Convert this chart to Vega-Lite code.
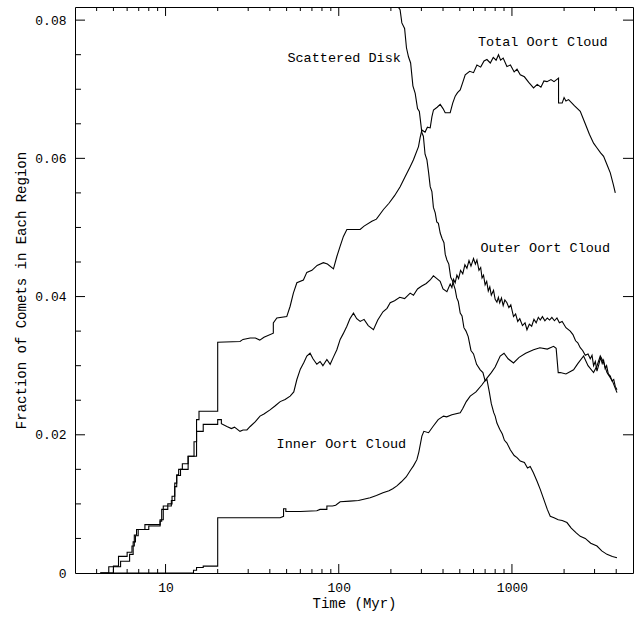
{
  "$schema": "https://vega.github.io/schema/vega-lite/v6.json",
  "width": 558,
  "height": 566,
  "autosize": {"type": "none"},
  "padding": {"left": 75, "top": 7, "right": 1, "bottom": 44},
  "background": "white",
  "config": {
    "view": {"stroke": "black", "strokeWidth": 1},
    "font": "Liberation Mono",
    "axis": {
      "grid": false,
      "domain": false,
      "ticks": false,
      "labelColor": "black",
      "titleColor": "black",
      "labelFont": "Liberation Mono",
      "titleFont": "Liberation Mono",
      "labelFontSize": 13,
      "titleFontSize": 14,
      "titleFontWeight": "normal",
      "labelOverlap": false,
      "labelFlush": false
    }
  },
  "datasets": {
    "curves": [
      {"r": "Scattered Disk", "t": 3, "v": 1.0},
      {"r": "Scattered Disk", "t": 132.9, "v": 0.106},
      {"r": "Scattered Disk", "t": 181.2, "v": 0.0894},
      {"r": "Scattered Disk", "t": 220.3, "v": 0.0819},
      {"r": "Scattered Disk", "t": 226, "v": 0.0815},
      {"r": "Scattered Disk", "t": 231.4, "v": 0.0796},
      {"r": "Scattered Disk", "t": 240, "v": 0.0788},
      {"r": "Scattered Disk", "t": 246, "v": 0.076},
      {"r": "Scattered Disk", "t": 252.7, "v": 0.0747},
      {"r": "Scattered Disk", "t": 260, "v": 0.0738},
      {"r": "Scattered Disk", "t": 268, "v": 0.0705},
      {"r": "Scattered Disk", "t": 276.3, "v": 0.0694},
      {"r": "Scattered Disk", "t": 285, "v": 0.0672},
      {"r": "Scattered Disk", "t": 292, "v": 0.0668},
      {"r": "Scattered Disk", "t": 302, "v": 0.0637},
      {"r": "Scattered Disk", "t": 308, "v": 0.0632},
      {"r": "Scattered Disk", "t": 315, "v": 0.0606},
      {"r": "Scattered Disk", "t": 322.8, "v": 0.0598},
      {"r": "Scattered Disk", "t": 330, "v": 0.058},
      {"r": "Scattered Disk", "t": 337.3, "v": 0.0559},
      {"r": "Scattered Disk", "t": 345, "v": 0.0552},
      {"r": "Scattered Disk", "t": 352, "v": 0.0529},
      {"r": "Scattered Disk", "t": 360.6, "v": 0.0521},
      {"r": "Scattered Disk", "t": 368, "v": 0.0508},
      {"r": "Scattered Disk", "t": 376, "v": 0.0506},
      {"r": "Scattered Disk", "t": 385.3, "v": 0.0492},
      {"r": "Scattered Disk", "t": 395, "v": 0.0484},
      {"r": "Scattered Disk", "t": 405, "v": 0.0478},
      {"r": "Scattered Disk", "t": 412, "v": 0.0461},
      {"r": "Scattered Disk", "t": 421.2, "v": 0.0453},
      {"r": "Scattered Disk", "t": 432, "v": 0.0447},
      {"r": "Scattered Disk", "t": 443, "v": 0.0428},
      {"r": "Scattered Disk", "t": 455, "v": 0.0422},
      {"r": "Scattered Disk", "t": 470.4, "v": 0.041},
      {"r": "Scattered Disk", "t": 480, "v": 0.0398},
      {"r": "Scattered Disk", "t": 490, "v": 0.0393},
      {"r": "Scattered Disk", "t": 502.7, "v": 0.0376},
      {"r": "Scattered Disk", "t": 515, "v": 0.0372},
      {"r": "Scattered Disk", "t": 528, "v": 0.0355},
      {"r": "Scattered Disk", "t": 543, "v": 0.035},
      {"r": "Scattered Disk", "t": 559.1, "v": 0.0342},
      {"r": "Scattered Disk", "t": 580, "v": 0.0322},
      {"r": "Scattered Disk", "t": 600, "v": 0.0317},
      {"r": "Scattered Disk", "t": 625, "v": 0.0302},
      {"r": "Scattered Disk", "t": 655.9, "v": 0.0294},
      {"r": "Scattered Disk", "t": 680, "v": 0.029},
      {"r": "Scattered Disk", "t": 700, "v": 0.0278},
      {"r": "Scattered Disk", "t": 717.1, "v": 0.028},
      {"r": "Scattered Disk", "t": 740, "v": 0.0262},
      {"r": "Scattered Disk", "t": 760, "v": 0.0245},
      {"r": "Scattered Disk", "t": 785, "v": 0.0232},
      {"r": "Scattered Disk", "t": 800, "v": 0.0227},
      {"r": "Scattered Disk", "t": 819, "v": 0.0217},
      {"r": "Scattered Disk", "t": 850, "v": 0.0208},
      {"r": "Scattered Disk", "t": 880, "v": 0.0201},
      {"r": "Scattered Disk", "t": 905, "v": 0.0192},
      {"r": "Scattered Disk", "t": 935.4, "v": 0.0188},
      {"r": "Scattered Disk", "t": 980, "v": 0.0178},
      {"r": "Scattered Disk", "t": 1030, "v": 0.017},
      {"r": "Scattered Disk", "t": 1070, "v": 0.0167},
      {"r": "Scattered Disk", "t": 1117, "v": 0.0162},
      {"r": "Scattered Disk", "t": 1180, "v": 0.016},
      {"r": "Scattered Disk", "t": 1230, "v": 0.0152},
      {"r": "Scattered Disk", "t": 1275, "v": 0.0154},
      {"r": "Scattered Disk", "t": 1330, "v": 0.0145},
      {"r": "Scattered Disk", "t": 1400, "v": 0.0132},
      {"r": "Scattered Disk", "t": 1457, "v": 0.0121},
      {"r": "Scattered Disk", "t": 1520, "v": 0.0108},
      {"r": "Scattered Disk", "t": 1600, "v": 0.0092},
      {"r": "Scattered Disk", "t": 1664, "v": 0.0082},
      {"r": "Scattered Disk", "t": 1750, "v": 0.008},
      {"r": "Scattered Disk", "t": 1850, "v": 0.0077},
      {"r": "Scattered Disk", "t": 1950, "v": 0.0076},
      {"r": "Scattered Disk", "t": 2078, "v": 0.0073},
      {"r": "Scattered Disk", "t": 2200, "v": 0.0065},
      {"r": "Scattered Disk", "t": 2350, "v": 0.0058},
      {"r": "Scattered Disk", "t": 2480, "v": 0.0053},
      {"r": "Scattered Disk", "t": 2650, "v": 0.005},
      {"r": "Scattered Disk", "t": 2850, "v": 0.0043},
      {"r": "Scattered Disk", "t": 3097, "v": 0.0039},
      {"r": "Scattered Disk", "t": 3300, "v": 0.0032},
      {"r": "Scattered Disk", "t": 3538, "v": 0.0027},
      {"r": "Scattered Disk", "t": 3800, "v": 0.0024},
      {"r": "Scattered Disk", "t": 4041, "v": 0.0022},

      {"r": "Total Oort Cloud", "t": 4.2, "v": 0},
      {"r": "Total Oort Cloud", "t": 4.7, "v": 0},
      {"r": "Total Oort Cloud", "t": 4.7, "v": 0.0009},
      {"r": "Total Oort Cloud", "t": 5.5, "v": 0.0009},
      {"r": "Total Oort Cloud", "t": 5.5, "v": 0.0017},
      {"r": "Total Oort Cloud", "t": 6.2, "v": 0.0017},
      {"r": "Total Oort Cloud", "t": 6.2, "v": 0.0027},
      {"r": "Total Oort Cloud", "t": 6.5, "v": 0.0027},
      {"r": "Total Oort Cloud", "t": 6.5, "v": 0.0045},
      {"r": "Total Oort Cloud", "t": 6.7, "v": 0.0045},
      {"r": "Total Oort Cloud", "t": 6.7, "v": 0.0054},
      {"r": "Total Oort Cloud", "t": 6.95, "v": 0.0054},
      {"r": "Total Oort Cloud", "t": 6.95, "v": 0.0063},
      {"r": "Total Oort Cloud", "t": 8.0, "v": 0.0063},
      {"r": "Total Oort Cloud", "t": 8.0, "v": 0.0068},
      {"r": "Total Oort Cloud", "t": 9.3, "v": 0.0068},
      {"r": "Total Oort Cloud", "t": 9.3, "v": 0.0075},
      {"r": "Total Oort Cloud", "t": 9.5, "v": 0.0075},
      {"r": "Total Oort Cloud", "t": 9.5, "v": 0.0092},
      {"r": "Total Oort Cloud", "t": 10.3, "v": 0.0092},
      {"r": "Total Oort Cloud", "t": 10.3, "v": 0.01},
      {"r": "Total Oort Cloud", "t": 10.9, "v": 0.01},
      {"r": "Total Oort Cloud", "t": 10.9, "v": 0.0111},
      {"r": "Total Oort Cloud", "t": 11.3, "v": 0.0111},
      {"r": "Total Oort Cloud", "t": 11.3, "v": 0.013},
      {"r": "Total Oort Cloud", "t": 11.6, "v": 0.013},
      {"r": "Total Oort Cloud", "t": 11.6, "v": 0.0142},
      {"r": "Total Oort Cloud", "t": 11.9, "v": 0.0142},
      {"r": "Total Oort Cloud", "t": 11.9, "v": 0.015},
      {"r": "Total Oort Cloud", "t": 12.5, "v": 0.015},
      {"r": "Total Oort Cloud", "t": 12.5, "v": 0.0158},
      {"r": "Total Oort Cloud", "t": 13.5, "v": 0.0158},
      {"r": "Total Oort Cloud", "t": 13.5, "v": 0.0169},
      {"r": "Total Oort Cloud", "t": 14.6, "v": 0.0169},
      {"r": "Total Oort Cloud", "t": 14.6, "v": 0.019},
      {"r": "Total Oort Cloud", "t": 15.1, "v": 0.019},
      {"r": "Total Oort Cloud", "t": 15.1, "v": 0.0222},
      {"r": "Total Oort Cloud", "t": 15.6, "v": 0.0222},
      {"r": "Total Oort Cloud", "t": 15.6, "v": 0.0234},
      {"r": "Total Oort Cloud", "t": 20, "v": 0.0234},
      {"r": "Total Oort Cloud", "t": 20, "v": 0.0334},
      {"r": "Total Oort Cloud", "t": 26.9, "v": 0.0335},
      {"r": "Total Oort Cloud", "t": 28, "v": 0.0338},
      {"r": "Total Oort Cloud", "t": 30.8, "v": 0.034},
      {"r": "Total Oort Cloud", "t": 33, "v": 0.034},
      {"r": "Total Oort Cloud", "t": 35, "v": 0.0337},
      {"r": "Total Oort Cloud", "t": 37, "v": 0.0341},
      {"r": "Total Oort Cloud", "t": 41.9, "v": 0.0347},
      {"r": "Total Oort Cloud", "t": 41.9, "v": 0.0362},
      {"r": "Total Oort Cloud", "t": 43.9, "v": 0.0369},
      {"r": "Total Oort Cloud", "t": 50.1, "v": 0.0371},
      {"r": "Total Oort Cloud", "t": 52.4, "v": 0.0386},
      {"r": "Total Oort Cloud", "t": 54.7, "v": 0.0405},
      {"r": "Total Oort Cloud", "t": 57.3, "v": 0.042},
      {"r": "Total Oort Cloud", "t": 62.5, "v": 0.0424},
      {"r": "Total Oort Cloud", "t": 65.4, "v": 0.0435},
      {"r": "Total Oort Cloud", "t": 70, "v": 0.0438},
      {"r": "Total Oort Cloud", "t": 75, "v": 0.0445},
      {"r": "Total Oort Cloud", "t": 81.5, "v": 0.0449},
      {"r": "Total Oort Cloud", "t": 86, "v": 0.0447},
      {"r": "Total Oort Cloud", "t": 93.2, "v": 0.044},
      {"r": "Total Oort Cloud", "t": 97.5, "v": 0.0458},
      {"r": "Total Oort Cloud", "t": 101.9, "v": 0.0473},
      {"r": "Total Oort Cloud", "t": 106.4, "v": 0.0487},
      {"r": "Total Oort Cloud", "t": 111.4, "v": 0.0497},
      {"r": "Total Oort Cloud", "t": 120, "v": 0.0497},
      {"r": "Total Oort Cloud", "t": 132.9, "v": 0.0497},
      {"r": "Total Oort Cloud", "t": 140, "v": 0.0502},
      {"r": "Total Oort Cloud", "t": 155.3, "v": 0.0509},
      {"r": "Total Oort Cloud", "t": 165, "v": 0.0512},
      {"r": "Total Oort Cloud", "t": 181.2, "v": 0.0526},
      {"r": "Total Oort Cloud", "t": 195, "v": 0.0535},
      {"r": "Total Oort Cloud", "t": 210, "v": 0.0546},
      {"r": "Total Oort Cloud", "t": 226.2, "v": 0.0559},
      {"r": "Total Oort Cloud", "t": 240, "v": 0.0572},
      {"r": "Total Oort Cloud", "t": 258.4, "v": 0.0588},
      {"r": "Total Oort Cloud", "t": 270, "v": 0.0598},
      {"r": "Total Oort Cloud", "t": 288.7, "v": 0.0617},
      {"r": "Total Oort Cloud", "t": 295, "v": 0.063},
      {"r": "Total Oort Cloud", "t": 302, "v": 0.0641},
      {"r": "Total Oort Cloud", "t": 315, "v": 0.0638},
      {"r": "Total Oort Cloud", "t": 325, "v": 0.0645},
      {"r": "Total Oort Cloud", "t": 337.3, "v": 0.0644},
      {"r": "Total Oort Cloud", "t": 345, "v": 0.066},
      {"r": "Total Oort Cloud", "t": 352.4, "v": 0.067},
      {"r": "Total Oort Cloud", "t": 370, "v": 0.0674},
      {"r": "Total Oort Cloud", "t": 385.3, "v": 0.0678},
      {"r": "Total Oort Cloud", "t": 400, "v": 0.0672},
      {"r": "Total Oort Cloud", "t": 411.8, "v": 0.0666},
      {"r": "Total Oort Cloud", "t": 440, "v": 0.0666},
      {"r": "Total Oort Cloud", "t": 455, "v": 0.068},
      {"r": "Total Oort Cloud", "t": 470.4, "v": 0.069},
      {"r": "Total Oort Cloud", "t": 485, "v": 0.0695},
      {"r": "Total Oort Cloud", "t": 502.7, "v": 0.0699},
      {"r": "Total Oort Cloud", "t": 520, "v": 0.071},
      {"r": "Total Oort Cloud", "t": 537.3, "v": 0.0721},
      {"r": "Total Oort Cloud", "t": 570, "v": 0.0726},
      {"r": "Total Oort Cloud", "t": 600, "v": 0.0724},
      {"r": "Total Oort Cloud", "t": 627.7, "v": 0.0735},
      {"r": "Total Oort Cloud", "t": 660, "v": 0.0732},
      {"r": "Total Oort Cloud", "t": 690, "v": 0.0741},
      {"r": "Total Oort Cloud", "t": 717.1, "v": 0.0743},
      {"r": "Total Oort Cloud", "t": 750, "v": 0.0738},
      {"r": "Total Oort Cloud", "t": 780, "v": 0.0746},
      {"r": "Total Oort Cloud", "t": 810, "v": 0.0742},
      {"r": "Total Oort Cloud", "t": 836.5, "v": 0.075},
      {"r": "Total Oort Cloud", "t": 860, "v": 0.0742},
      {"r": "Total Oort Cloud", "t": 890, "v": 0.0745},
      {"r": "Total Oort Cloud", "t": 935.4, "v": 0.0733},
      {"r": "Total Oort Cloud", "t": 980, "v": 0.0735},
      {"r": "Total Oort Cloud", "t": 1030, "v": 0.0725},
      {"r": "Total Oort Cloud", "t": 1070, "v": 0.0729},
      {"r": "Total Oort Cloud", "t": 1117, "v": 0.0721},
      {"r": "Total Oort Cloud", "t": 1180, "v": 0.0718},
      {"r": "Total Oort Cloud", "t": 1250, "v": 0.071},
      {"r": "Total Oort Cloud", "t": 1333, "v": 0.0702},
      {"r": "Total Oort Cloud", "t": 1400, "v": 0.0707},
      {"r": "Total Oort Cloud", "t": 1470, "v": 0.0703},
      {"r": "Total Oort Cloud", "t": 1530, "v": 0.0712},
      {"r": "Total Oort Cloud", "t": 1593, "v": 0.0711},
      {"r": "Total Oort Cloud", "t": 1680, "v": 0.0714},
      {"r": "Total Oort Cloud", "t": 1750, "v": 0.0711},
      {"r": "Total Oort Cloud", "t": 1858, "v": 0.0716},
      {"r": "Total Oort Cloud", "t": 1858, "v": 0.068},
      {"r": "Total Oort Cloud", "t": 1950, "v": 0.068},
      {"r": "Total Oort Cloud", "t": 2000, "v": 0.0688},
      {"r": "Total Oort Cloud", "t": 2050, "v": 0.0683},
      {"r": "Total Oort Cloud", "t": 2123, "v": 0.0685},
      {"r": "Total Oort Cloud", "t": 2300, "v": 0.0676},
      {"r": "Total Oort Cloud", "t": 2480, "v": 0.0668},
      {"r": "Total Oort Cloud", "t": 2650, "v": 0.065},
      {"r": "Total Oort Cloud", "t": 2800, "v": 0.0635},
      {"r": "Total Oort Cloud", "t": 2960, "v": 0.0622},
      {"r": "Total Oort Cloud", "t": 3100, "v": 0.0615},
      {"r": "Total Oort Cloud", "t": 3250, "v": 0.0608},
      {"r": "Total Oort Cloud", "t": 3382, "v": 0.0603},
      {"r": "Total Oort Cloud", "t": 3550, "v": 0.059},
      {"r": "Total Oort Cloud", "t": 3697, "v": 0.0579},
      {"r": "Total Oort Cloud", "t": 3850, "v": 0.0562},
      {"r": "Total Oort Cloud", "t": 3951, "v": 0.055},

      {"r": "Outer Oort Cloud", "t": 4.2, "v": 0},
      {"r": "Outer Oort Cloud", "t": 5.0, "v": 0},
      {"r": "Outer Oort Cloud", "t": 5.0, "v": 0.001},
      {"r": "Outer Oort Cloud", "t": 5.35, "v": 0.001},
      {"r": "Outer Oort Cloud", "t": 5.35, "v": 0.0024},
      {"r": "Outer Oort Cloud", "t": 6.0, "v": 0.0024},
      {"r": "Outer Oort Cloud", "t": 6.0, "v": 0.003},
      {"r": "Outer Oort Cloud", "t": 6.4, "v": 0.003},
      {"r": "Outer Oort Cloud", "t": 6.4, "v": 0.0039},
      {"r": "Outer Oort Cloud", "t": 6.6, "v": 0.0039},
      {"r": "Outer Oort Cloud", "t": 6.6, "v": 0.0055},
      {"r": "Outer Oort Cloud", "t": 6.8, "v": 0.0055},
      {"r": "Outer Oort Cloud", "t": 6.8, "v": 0.0063},
      {"r": "Outer Oort Cloud", "t": 7.6, "v": 0.0063},
      {"r": "Outer Oort Cloud", "t": 7.6, "v": 0.007},
      {"r": "Outer Oort Cloud", "t": 9.3, "v": 0.007},
      {"r": "Outer Oort Cloud", "t": 9.3, "v": 0.0077},
      {"r": "Outer Oort Cloud", "t": 9.7, "v": 0.0077},
      {"r": "Outer Oort Cloud", "t": 9.7, "v": 0.0097},
      {"r": "Outer Oort Cloud", "t": 10.8, "v": 0.0097},
      {"r": "Outer Oort Cloud", "t": 10.8, "v": 0.0105},
      {"r": "Outer Oort Cloud", "t": 11.3, "v": 0.0105},
      {"r": "Outer Oort Cloud", "t": 11.3, "v": 0.0125},
      {"r": "Outer Oort Cloud", "t": 11.6, "v": 0.0125},
      {"r": "Outer Oort Cloud", "t": 11.6, "v": 0.0141},
      {"r": "Outer Oort Cloud", "t": 12.2, "v": 0.0141},
      {"r": "Outer Oort Cloud", "t": 12.2, "v": 0.015},
      {"r": "Outer Oort Cloud", "t": 13.5, "v": 0.015},
      {"r": "Outer Oort Cloud", "t": 13.5, "v": 0.0169},
      {"r": "Outer Oort Cloud", "t": 15.1, "v": 0.0169},
      {"r": "Outer Oort Cloud", "t": 15.1, "v": 0.0205},
      {"r": "Outer Oort Cloud", "t": 16.5, "v": 0.0205},
      {"r": "Outer Oort Cloud", "t": 16.5, "v": 0.0215},
      {"r": "Outer Oort Cloud", "t": 20, "v": 0.0215},
      {"r": "Outer Oort Cloud", "t": 20, "v": 0.0222},
      {"r": "Outer Oort Cloud", "t": 21, "v": 0.0222},
      {"r": "Outer Oort Cloud", "t": 21, "v": 0.0216},
      {"r": "Outer Oort Cloud", "t": 22.6, "v": 0.0212},
      {"r": "Outer Oort Cloud", "t": 24, "v": 0.0209},
      {"r": "Outer Oort Cloud", "t": 25, "v": 0.0211},
      {"r": "Outer Oort Cloud", "t": 26.9, "v": 0.0205},
      {"r": "Outer Oort Cloud", "t": 28, "v": 0.0207},
      {"r": "Outer Oort Cloud", "t": 29.5, "v": 0.0207},
      {"r": "Outer Oort Cloud", "t": 30.8, "v": 0.0212},
      {"r": "Outer Oort Cloud", "t": 33, "v": 0.0219},
      {"r": "Outer Oort Cloud", "t": 35.1, "v": 0.0227},
      {"r": "Outer Oort Cloud", "t": 37, "v": 0.023},
      {"r": "Outer Oort Cloud", "t": 40.1, "v": 0.0236},
      {"r": "Outer Oort Cloud", "t": 43, "v": 0.0242},
      {"r": "Outer Oort Cloud", "t": 45.9, "v": 0.0248},
      {"r": "Outer Oort Cloud", "t": 49, "v": 0.0251},
      {"r": "Outer Oort Cloud", "t": 52.4, "v": 0.0256},
      {"r": "Outer Oort Cloud", "t": 55, "v": 0.0262},
      {"r": "Outer Oort Cloud", "t": 57.3, "v": 0.028},
      {"r": "Outer Oort Cloud", "t": 60, "v": 0.0295},
      {"r": "Outer Oort Cloud", "t": 63, "v": 0.0305},
      {"r": "Outer Oort Cloud", "t": 65.4, "v": 0.0314},
      {"r": "Outer Oort Cloud", "t": 68.3, "v": 0.0318},
      {"r": "Outer Oort Cloud", "t": 71, "v": 0.031},
      {"r": "Outer Oort Cloud", "t": 74.7, "v": 0.0302},
      {"r": "Outer Oort Cloud", "t": 78, "v": 0.0306},
      {"r": "Outer Oort Cloud", "t": 81, "v": 0.03},
      {"r": "Outer Oort Cloud", "t": 85.4, "v": 0.0309},
      {"r": "Outer Oort Cloud", "t": 89.2, "v": 0.0302},
      {"r": "Outer Oort Cloud", "t": 93, "v": 0.0312},
      {"r": "Outer Oort Cloud", "t": 97.5, "v": 0.0323},
      {"r": "Outer Oort Cloud", "t": 101.9, "v": 0.0338},
      {"r": "Outer Oort Cloud", "t": 106, "v": 0.0346},
      {"r": "Outer Oort Cloud", "t": 111.4, "v": 0.0357},
      {"r": "Outer Oort Cloud", "t": 116, "v": 0.0368},
      {"r": "Outer Oort Cloud", "t": 121.6, "v": 0.0376},
      {"r": "Outer Oort Cloud", "t": 127, "v": 0.0368},
      {"r": "Outer Oort Cloud", "t": 133, "v": 0.0364},
      {"r": "Outer Oort Cloud", "t": 140, "v": 0.0367},
      {"r": "Outer Oort Cloud", "t": 148, "v": 0.0358},
      {"r": "Outer Oort Cloud", "t": 158.6, "v": 0.0352},
      {"r": "Outer Oort Cloud", "t": 168, "v": 0.0366},
      {"r": "Outer Oort Cloud", "t": 180, "v": 0.0378},
      {"r": "Outer Oort Cloud", "t": 190, "v": 0.0383},
      {"r": "Outer Oort Cloud", "t": 198.2, "v": 0.0391},
      {"r": "Outer Oort Cloud", "t": 210, "v": 0.0394},
      {"r": "Outer Oort Cloud", "t": 225, "v": 0.0399},
      {"r": "Outer Oort Cloud", "t": 240, "v": 0.0397},
      {"r": "Outer Oort Cloud", "t": 258.4, "v": 0.0405},
      {"r": "Outer Oort Cloud", "t": 270, "v": 0.0402},
      {"r": "Outer Oort Cloud", "t": 285, "v": 0.0411},
      {"r": "Outer Oort Cloud", "t": 300, "v": 0.0415},
      {"r": "Outer Oort Cloud", "t": 320, "v": 0.0419},
      {"r": "Outer Oort Cloud", "t": 337.3, "v": 0.0424},
      {"r": "Outer Oort Cloud", "t": 352, "v": 0.043},
      {"r": "Outer Oort Cloud", "t": 368.7, "v": 0.0426},
      {"r": "Outer Oort Cloud", "t": 385, "v": 0.0422},
      {"r": "Outer Oort Cloud", "t": 400, "v": 0.0411},
      {"r": "Outer Oort Cloud", "t": 421.2, "v": 0.0407},
      {"r": "Outer Oort Cloud", "t": 440, "v": 0.0418},
      {"r": "Outer Oort Cloud", "t": 450, "v": 0.0413},
      {"r": "Outer Oort Cloud", "t": 460, "v": 0.0425},
      {"r": "Outer Oort Cloud", "t": 470, "v": 0.042},
      {"r": "Outer Oort Cloud", "t": 481.1, "v": 0.0431},
      {"r": "Outer Oort Cloud", "t": 492, "v": 0.0426},
      {"r": "Outer Oort Cloud", "t": 505, "v": 0.0438},
      {"r": "Outer Oort Cloud", "t": 520, "v": 0.0433},
      {"r": "Outer Oort Cloud", "t": 535, "v": 0.0446},
      {"r": "Outer Oort Cloud", "t": 549.5, "v": 0.0441},
      {"r": "Outer Oort Cloud", "t": 565, "v": 0.0452},
      {"r": "Outer Oort Cloud", "t": 580, "v": 0.0444},
      {"r": "Outer Oort Cloud", "t": 600, "v": 0.0455},
      {"r": "Outer Oort Cloud", "t": 615, "v": 0.0447},
      {"r": "Outer Oort Cloud", "t": 627.7, "v": 0.0453},
      {"r": "Outer Oort Cloud", "t": 645, "v": 0.0438},
      {"r": "Outer Oort Cloud", "t": 660, "v": 0.0442},
      {"r": "Outer Oort Cloud", "t": 672, "v": 0.0427},
      {"r": "Outer Oort Cloud", "t": 685.4, "v": 0.0431},
      {"r": "Outer Oort Cloud", "t": 700, "v": 0.0417},
      {"r": "Outer Oort Cloud", "t": 715, "v": 0.0422},
      {"r": "Outer Oort Cloud", "t": 730, "v": 0.0408},
      {"r": "Outer Oort Cloud", "t": 745, "v": 0.0414},
      {"r": "Outer Oort Cloud", "t": 760, "v": 0.0402},
      {"r": "Outer Oort Cloud", "t": 782.8, "v": 0.0409},
      {"r": "Outer Oort Cloud", "t": 800, "v": 0.0396},
      {"r": "Outer Oort Cloud", "t": 819, "v": 0.0392},
      {"r": "Outer Oort Cloud", "t": 835, "v": 0.0399},
      {"r": "Outer Oort Cloud", "t": 850, "v": 0.0391},
      {"r": "Outer Oort Cloud", "t": 870, "v": 0.0398},
      {"r": "Outer Oort Cloud", "t": 890, "v": 0.0387},
      {"r": "Outer Oort Cloud", "t": 910, "v": 0.0395},
      {"r": "Outer Oort Cloud", "t": 935.4, "v": 0.0391},
      {"r": "Outer Oort Cloud", "t": 960, "v": 0.0384},
      {"r": "Outer Oort Cloud", "t": 985, "v": 0.0388},
      {"r": "Outer Oort Cloud", "t": 1021, "v": 0.0371},
      {"r": "Outer Oort Cloud", "t": 1050, "v": 0.0375},
      {"r": "Outer Oort Cloud", "t": 1080, "v": 0.0364},
      {"r": "Outer Oort Cloud", "t": 1110, "v": 0.0368},
      {"r": "Outer Oort Cloud", "t": 1150, "v": 0.0358},
      {"r": "Outer Oort Cloud", "t": 1190, "v": 0.0362},
      {"r": "Outer Oort Cloud", "t": 1221, "v": 0.0352},
      {"r": "Outer Oort Cloud", "t": 1260, "v": 0.036},
      {"r": "Outer Oort Cloud", "t": 1300, "v": 0.0357},
      {"r": "Outer Oort Cloud", "t": 1340, "v": 0.0367},
      {"r": "Outer Oort Cloud", "t": 1380, "v": 0.0362},
      {"r": "Outer Oort Cloud", "t": 1420, "v": 0.037},
      {"r": "Outer Oort Cloud", "t": 1457, "v": 0.0366},
      {"r": "Outer Oort Cloud", "t": 1500, "v": 0.0371},
      {"r": "Outer Oort Cloud", "t": 1550, "v": 0.0365},
      {"r": "Outer Oort Cloud", "t": 1600, "v": 0.0369},
      {"r": "Outer Oort Cloud", "t": 1650, "v": 0.0366},
      {"r": "Outer Oort Cloud", "t": 1700, "v": 0.037},
      {"r": "Outer Oort Cloud", "t": 1760, "v": 0.0365},
      {"r": "Outer Oort Cloud", "t": 1819, "v": 0.0369},
      {"r": "Outer Oort Cloud", "t": 1880, "v": 0.0362},
      {"r": "Outer Oort Cloud", "t": 1950, "v": 0.0364},
      {"r": "Outer Oort Cloud", "t": 2050, "v": 0.0355},
      {"r": "Outer Oort Cloud", "t": 2171, "v": 0.035},
      {"r": "Outer Oort Cloud", "t": 2250, "v": 0.0345},
      {"r": "Outer Oort Cloud", "t": 2330, "v": 0.0336},
      {"r": "Outer Oort Cloud", "t": 2400, "v": 0.0333},
      {"r": "Outer Oort Cloud", "t": 2480, "v": 0.0326},
      {"r": "Outer Oort Cloud", "t": 2560, "v": 0.0322},
      {"r": "Outer Oort Cloud", "t": 2650, "v": 0.0315},
      {"r": "Outer Oort Cloud", "t": 2750, "v": 0.0317},
      {"r": "Outer Oort Cloud", "t": 2833, "v": 0.031},
      {"r": "Outer Oort Cloud", "t": 2900, "v": 0.0315},
      {"r": "Outer Oort Cloud", "t": 2960, "v": 0.03},
      {"r": "Outer Oort Cloud", "t": 3030, "v": 0.0306},
      {"r": "Outer Oort Cloud", "t": 3097, "v": 0.0292},
      {"r": "Outer Oort Cloud", "t": 3170, "v": 0.0301},
      {"r": "Outer Oort Cloud", "t": 3250, "v": 0.0312},
      {"r": "Outer Oort Cloud", "t": 3320, "v": 0.0303},
      {"r": "Outer Oort Cloud", "t": 3382, "v": 0.0308},
      {"r": "Outer Oort Cloud", "t": 3450, "v": 0.0296},
      {"r": "Outer Oort Cloud", "t": 3520, "v": 0.03},
      {"r": "Outer Oort Cloud", "t": 3600, "v": 0.0288},
      {"r": "Outer Oort Cloud", "t": 3697, "v": 0.0285},
      {"r": "Outer Oort Cloud", "t": 3780, "v": 0.0278},
      {"r": "Outer Oort Cloud", "t": 3870, "v": 0.028},
      {"r": "Outer Oort Cloud", "t": 3950, "v": 0.027},
      {"r": "Outer Oort Cloud", "t": 4041, "v": 0.0265},

      {"r": "Inner Oort Cloud", "t": 4.2, "v": 0},
      {"r": "Inner Oort Cloud", "t": 14.5, "v": 0},
      {"r": "Inner Oort Cloud", "t": 14.5, "v": 0.0004},
      {"r": "Inner Oort Cloud", "t": 15.1, "v": 0.0004},
      {"r": "Inner Oort Cloud", "t": 15.1, "v": 0.0008},
      {"r": "Inner Oort Cloud", "t": 16.5, "v": 0.0008},
      {"r": "Inner Oort Cloud", "t": 16.5, "v": 0.001},
      {"r": "Inner Oort Cloud", "t": 20, "v": 0.001},
      {"r": "Inner Oort Cloud", "t": 20, "v": 0.008},
      {"r": "Inner Oort Cloud", "t": 45.9, "v": 0.008},
      {"r": "Inner Oort Cloud", "t": 48, "v": 0.0082},
      {"r": "Inner Oort Cloud", "t": 48, "v": 0.0093},
      {"r": "Inner Oort Cloud", "t": 49.5, "v": 0.0093},
      {"r": "Inner Oort Cloud", "t": 49.5, "v": 0.0089},
      {"r": "Inner Oort Cloud", "t": 60, "v": 0.0089},
      {"r": "Inner Oort Cloud", "t": 74.7, "v": 0.009},
      {"r": "Inner Oort Cloud", "t": 78, "v": 0.0092},
      {"r": "Inner Oort Cloud", "t": 85.4, "v": 0.0092},
      {"r": "Inner Oort Cloud", "t": 85.4, "v": 0.0097},
      {"r": "Inner Oort Cloud", "t": 92, "v": 0.0097},
      {"r": "Inner Oort Cloud", "t": 96, "v": 0.0098},
      {"r": "Inner Oort Cloud", "t": 101.9, "v": 0.0103},
      {"r": "Inner Oort Cloud", "t": 116, "v": 0.0104},
      {"r": "Inner Oort Cloud", "t": 130, "v": 0.0105},
      {"r": "Inner Oort Cloud", "t": 151.8, "v": 0.0109},
      {"r": "Inner Oort Cloud", "t": 165, "v": 0.0112},
      {"r": "Inner Oort Cloud", "t": 180, "v": 0.0116},
      {"r": "Inner Oort Cloud", "t": 195, "v": 0.0119},
      {"r": "Inner Oort Cloud", "t": 205, "v": 0.0122},
      {"r": "Inner Oort Cloud", "t": 216.6, "v": 0.0126},
      {"r": "Inner Oort Cloud", "t": 230, "v": 0.0132},
      {"r": "Inner Oort Cloud", "t": 245, "v": 0.0139},
      {"r": "Inner Oort Cloud", "t": 260, "v": 0.0149},
      {"r": "Inner Oort Cloud", "t": 270, "v": 0.0155},
      {"r": "Inner Oort Cloud", "t": 282.6, "v": 0.0164},
      {"r": "Inner Oort Cloud", "t": 290, "v": 0.0175},
      {"r": "Inner Oort Cloud", "t": 302, "v": 0.0198},
      {"r": "Inner Oort Cloud", "t": 310, "v": 0.0205},
      {"r": "Inner Oort Cloud", "t": 330, "v": 0.0203},
      {"r": "Inner Oort Cloud", "t": 350, "v": 0.0212},
      {"r": "Inner Oort Cloud", "t": 375, "v": 0.0222},
      {"r": "Inner Oort Cloud", "t": 402.6, "v": 0.0227},
      {"r": "Inner Oort Cloud", "t": 420, "v": 0.0226},
      {"r": "Inner Oort Cloud", "t": 450, "v": 0.0229},
      {"r": "Inner Oort Cloud", "t": 502.7, "v": 0.0232},
      {"r": "Inner Oort Cloud", "t": 520, "v": 0.0238},
      {"r": "Inner Oort Cloud", "t": 545, "v": 0.0248},
      {"r": "Inner Oort Cloud", "t": 574.1, "v": 0.0256},
      {"r": "Inner Oort Cloud", "t": 620, "v": 0.0262},
      {"r": "Inner Oort Cloud", "t": 670, "v": 0.0272},
      {"r": "Inner Oort Cloud", "t": 717.1, "v": 0.0282},
      {"r": "Inner Oort Cloud", "t": 760, "v": 0.029},
      {"r": "Inner Oort Cloud", "t": 800, "v": 0.0298},
      {"r": "Inner Oort Cloud", "t": 855.6, "v": 0.0314},
      {"r": "Inner Oort Cloud", "t": 900, "v": 0.0318},
      {"r": "Inner Oort Cloud", "t": 950, "v": 0.031},
      {"r": "Inner Oort Cloud", "t": 1021, "v": 0.0304},
      {"r": "Inner Oort Cloud", "t": 1100, "v": 0.0312},
      {"r": "Inner Oort Cloud", "t": 1200, "v": 0.0318},
      {"r": "Inner Oort Cloud", "t": 1333, "v": 0.0323},
      {"r": "Inner Oort Cloud", "t": 1450, "v": 0.0326},
      {"r": "Inner Oort Cloud", "t": 1600, "v": 0.0324},
      {"r": "Inner Oort Cloud", "t": 1739, "v": 0.0328},
      {"r": "Inner Oort Cloud", "t": 1800, "v": 0.0325},
      {"r": "Inner Oort Cloud", "t": 1850, "v": 0.029},
      {"r": "Inner Oort Cloud", "t": 1901, "v": 0.029},
      {"r": "Inner Oort Cloud", "t": 2050, "v": 0.0288},
      {"r": "Inner Oort Cloud", "t": 2269, "v": 0.0294},
      {"r": "Inner Oort Cloud", "t": 2400, "v": 0.0303},
      {"r": "Inner Oort Cloud", "t": 2592, "v": 0.0314},
      {"r": "Inner Oort Cloud", "t": 2750, "v": 0.03},
      {"r": "Inner Oort Cloud", "t": 2960, "v": 0.029},
      {"r": "Inner Oort Cloud", "t": 3100, "v": 0.03},
      {"r": "Inner Oort Cloud", "t": 3236, "v": 0.0314},
      {"r": "Inner Oort Cloud", "t": 3380, "v": 0.0305},
      {"r": "Inner Oort Cloud", "t": 3538, "v": 0.029},
      {"r": "Inner Oort Cloud", "t": 3800, "v": 0.0278},
      {"r": "Inner Oort Cloud", "t": 4041, "v": 0.0261}
    ],
    "names": [
      {"name": "Scattered Disk", "t": 107.4, "v": 0.0745},
      {"name": "Total Oort Cloud", "t": 1506, "v": 0.0769},
      {"name": "Outer Oort Cloud", "t": 1557, "v": 0.047},
      {"name": "Inner Oort Cloud", "t": 103.6, "v": 0.0186}
    ],
    "xMajor": [{"t": 10}, {"t": 100}, {"t": 1000}],
    "xMinor": [
      {"t": 4}, {"t": 5}, {"t": 6}, {"t": 7}, {"t": 8}, {"t": 9},
      {"t": 20}, {"t": 30}, {"t": 40}, {"t": 50}, {"t": 60}, {"t": 70}, {"t": 80}, {"t": 90},
      {"t": 200}, {"t": 300}, {"t": 400}, {"t": 500}, {"t": 600}, {"t": 700}, {"t": 800}, {"t": 900},
      {"t": 2000}, {"t": 3000}, {"t": 4000}
    ],
    "yMajor": [{"v": 0.02}, {"v": 0.04}, {"v": 0.06}, {"v": 0.08}],
    "yMinor": [
      {"v": 0.005}, {"v": 0.01}, {"v": 0.015}, {"v": 0.025}, {"v": 0.03}, {"v": 0.035},
      {"v": 0.045}, {"v": 0.05}, {"v": 0.055}, {"v": 0.065}, {"v": 0.07}, {"v": 0.075}
    ]
  },
  "layer": [
    {
      "data": {"name": "curves"},
      "mark": {"type": "line", "color": "black", "strokeWidth": 1.1, "clip": true},
      "encoding": {
        "x": {
          "field": "t",
          "type": "quantitative",
          "scale": {"type": "log", "domain": [3, 5000], "nice": false},
          "axis": {
            "orient": "bottom",
            "values": [10, 100, 1000],
            "format": "d",
            "labelPadding": 8,
            "title": "Time (Myr)",
            "titlePadding": 2
          }
        },
        "y": {
          "field": "v",
          "type": "quantitative",
          "scale": {"domain": [0, 0.0819], "nice": false, "zero": false},
          "axis": {
            "orient": "left",
            "values": [0, 0.02, 0.04, 0.06, 0.08],
            "labelExpr": "format(datum.value, '.2~f')",
            "labelPadding": 9,
            "title": "Fraction of Comets in Each Region",
            "titlePadding": 6
          }
        },
        "detail": {"field": "r"},
        "order": {"value": null}
      }
    },
    {
      "data": {"name": "names"},
      "mark": {"type": "text", "font": "Liberation Mono", "fontSize": 13.5, "color": "black"},
      "encoding": {
        "x": {"field": "t", "type": "quantitative", "scale": {"type": "log", "domain": [3, 5000], "nice": false}},
        "y": {"field": "v", "type": "quantitative", "scale": {"domain": [0, 0.0819], "nice": false, "zero": false}},
        "text": {"field": "name"}
      }
    },
    {
      "data": {"name": "xMajor"},
      "mark": {"type": "rule", "color": "black", "strokeWidth": 1},
      "encoding": {
        "x": {"field": "t", "type": "quantitative", "scale": {"type": "log", "domain": [3, 5000], "nice": false}},
        "y": {"datum": 0},
        "y2": {"datum": 0.0013}
      }
    },
    {
      "data": {"name": "xMinor"},
      "mark": {"type": "rule", "color": "black", "strokeWidth": 1},
      "encoding": {
        "x": {"field": "t", "type": "quantitative", "scale": {"type": "log", "domain": [3, 5000], "nice": false}},
        "y": {"datum": 0},
        "y2": {"datum": 0.00058}
      }
    },
    {
      "data": {"name": "xMajor"},
      "mark": {"type": "rule", "color": "black", "strokeWidth": 1},
      "encoding": {
        "x": {"field": "t", "type": "quantitative", "scale": {"type": "log", "domain": [3, 5000], "nice": false}},
        "y": {"datum": 0.0819},
        "y2": {"datum": 0.0806}
      }
    },
    {
      "data": {"name": "xMinor"},
      "mark": {"type": "rule", "color": "black", "strokeWidth": 1},
      "encoding": {
        "x": {"field": "t", "type": "quantitative", "scale": {"type": "log", "domain": [3, 5000], "nice": false}},
        "y": {"datum": 0.0819},
        "y2": {"datum": 0.08132}
      }
    },
    {
      "data": {"name": "yMajor"},
      "mark": {"type": "rule", "color": "black", "strokeWidth": 1},
      "encoding": {
        "y": {"field": "v", "type": "quantitative", "scale": {"domain": [0, 0.0819], "nice": false, "zero": false}},
        "x": {"datum": 3},
        "x2": {"datum": 3.427}
      }
    },
    {
      "data": {"name": "yMinor"},
      "mark": {"type": "rule", "color": "black", "strokeWidth": 1},
      "encoding": {
        "y": {"field": "v", "type": "quantitative", "scale": {"domain": [0, 0.0819], "nice": false, "zero": false}},
        "x": {"datum": 3},
        "x2": {"datum": 3.249}
      }
    },
    {
      "data": {"name": "yMajor"},
      "mark": {"type": "rule", "color": "black", "strokeWidth": 1},
      "encoding": {
        "y": {"field": "v", "type": "quantitative", "scale": {"domain": [0, 0.0819], "nice": false, "zero": false}},
        "x": {"datum": 5000},
        "x2": {"datum": 4377}
      }
    }
  ]
}
